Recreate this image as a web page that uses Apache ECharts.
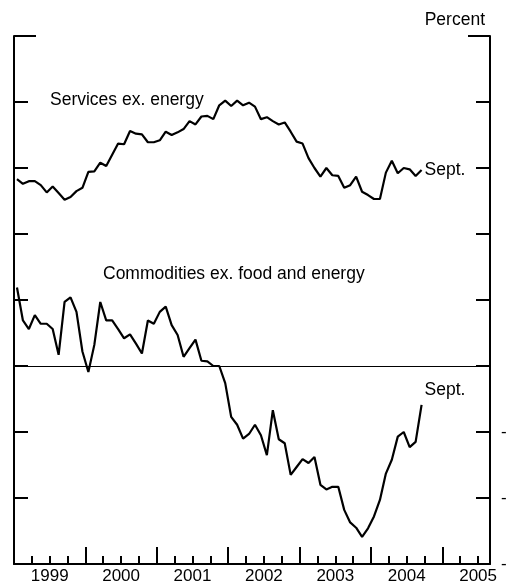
<!DOCTYPE html>
<html>
<head>
<meta charset="utf-8">
<script src="https://cdn.jsdelivr.net/npm/echarts@6/dist/echarts.min.js"></script>
<style>
html,body{margin:0;padding:0;background:#fff;}
#chart{width:507px;height:586px;}
</style>
</head>
<body>
<div id="chart"></div>
<script>
// Monthly data, Jan 1999 .. Sep 2004 (12-month percent change)
const startYear = 1999;
const services = [2.83,2.76,2.80,2.80,2.74,2.63,2.72,2.62,2.52,2.56,2.65,2.70,
  2.94,2.95,3.08,3.03,3.20,3.37,3.36,3.56,3.52,3.51,3.39,3.39,
  3.42,3.55,3.50,3.54,3.59,3.71,3.66,3.78,3.79,3.74,3.95,4.02,
  3.94,4.02,3.95,3.99,3.93,3.74,3.77,3.71,3.66,3.69,3.55,3.40,
  3.37,3.15,3.00,2.87,3.00,2.89,2.88,2.70,2.74,2.87,2.64,2.59,
  2.53,2.53,2.93,3.11,2.92,3.00,2.98,2.88,2.97];
const commodities = [1.19,0.69,0.56,0.77,0.64,0.64,0.56,0.17,0.97,1.04,0.82,0.22,
  -0.09,0.32,0.97,0.69,0.69,0.56,0.42,0.48,0.34,0.19,0.69,0.64,
  0.82,0.90,0.62,0.47,0.14,0.27,0.40,0.08,0.07,0.00,0.00,-0.26,
  -0.77,-0.89,-1.10,-1.03,-0.89,-1.05,-1.35,-0.67,-1.11,-1.17,-1.65,-1.53,
  -1.41,-1.47,-1.38,-1.80,-1.87,-1.83,-1.83,-2.18,-2.37,-2.45,-2.59,-2.46,
  -2.28,-2.03,-1.63,-1.42,-1.07,-1.00,-1.23,-1.15,-0.59];
const seriesNames = ['Services ex. energy', 'Commodities ex. food and energy'];
const endLabelText = 'Sept.';
const unitLabel = 'Percent';
const yMin = -3, yMax = 5, yStep = 1;
const xMin = 1999, xMax = 2005 + 8/12;

const toPairs = arr => arr.map((v, i) => [startYear + (i + 0.5) / 12, v]);

const FONT = '"Liberation Sans", Arial, Helvetica, sans-serif';
const BLACK = '#000';

const chart = echarts.init(document.getElementById('chart'), null, {renderer: 'canvas'});

const hiddenLabel = {show: false};
chart.setOption({
  animation: false,
  backgroundColor: '#fff',
  textStyle: {fontFamily: FONT, color: BLACK},
  grid: {left: 14, right: 17, top: 36, bottom: 22, containLabel: false, outerBoundsMode: 'none'},
  xAxis: [
    { // major year ticks + axis line
      type: 'value', min: xMin, max: xMax, interval: 1, position: 'bottom',
      axisLine: {show: true, onZero: false, lineStyle: {color: BLACK, width: 2}},
      axisTick: {show: true, inside: true, length: 17, lineStyle: {color: BLACK, width: 2}},
      axisLabel: hiddenLabel, splitLine: {show: false}
    },
    { // quarterly minor ticks
      type: 'value', min: xMin, max: xMax, interval: 0.25, position: 'bottom',
      axisLine: {show: false, onZero: false},
      axisTick: {show: true, inside: true, length: 8, lineStyle: {color: BLACK, width: 2}},
      axisLabel: hiddenLabel, splitLine: {show: false}
    },
    { // year labels centred in each year
      type: 'value', min: xMin - 0.5, max: xMax - 0.5, interval: 0.5, position: 'bottom',
      axisLine: {show: false, onZero: false},
      axisTick: {show: false},
      axisLabel: {show: true, margin: 4, fontSize: 17, fontFamily: FONT, color: BLACK,
        showMinLabel: true, showMaxLabel: true,
        formatter: v => (Math.abs(v - Math.round(v)) < 1e-6 ? String(Math.round(v)) : '')},
      splitLine: {show: false}
    }
  ],
  yAxis: [
    {
      type: 'value', min: yMin, max: yMax, interval: yStep, position: 'left',
      axisLine: {show: true, onZero: false, lineStyle: {color: BLACK, width: 2}},
      axisTick: {show: true, inside: true, length: 14, lineStyle: {color: BLACK, width: 2}},
      axisLabel: hiddenLabel, splitLine: {show: false}
    },
    {
      type: 'value', min: yMin, max: yMax, interval: yStep, position: 'right',
      axisLine: {show: true, onZero: false, lineStyle: {color: BLACK, width: 2}},
      axisTick: {show: true, inside: true, length: 14, lineStyle: {color: BLACK, width: 2}},
      axisLabel: {show: true, margin: 11, fontSize: 17, fontFamily: FONT, color: BLACK,
        formatter: v => (v < 0 ? String(v) : '\u2007' + v)},
      splitLine: {show: false}
    },
    {
      type: 'value', min: yMin, max: yMax, interval: yMax - yMin, position: 'left',
      axisLine: {show: false, onZero: false},
      axisTick: {show: true, inside: true, length: 22, lineStyle: {color: BLACK, width: 2}},
      axisLabel: hiddenLabel, splitLine: {show: false}
    },
    {
      type: 'value', min: yMin, max: yMax, interval: yMax - yMin, position: 'right',
      axisLine: {show: false, onZero: false},
      axisTick: {show: true, inside: true, length: 22, lineStyle: {color: BLACK, width: 2}},
      axisLabel: hiddenLabel, splitLine: {show: false}
    }
  ],
  title: {
    text: unitLabel, right: 17, top: 6,
    textStyle: {fontFamily: FONT, fontSize: 17.5, fontWeight: 'normal', color: BLACK}
  },
  graphic: [
    {type: 'text', left: 50, top: 91,
      style: {text: seriesNames[0], font: '17.5px ' + FONT, fill: BLACK}},
    {type: 'text', left: 103, top: 265,
      style: {text: seriesNames[1], font: '17.5px ' + FONT, fill: BLACK}}
  ],
  series: [
    {
      name: seriesNames[0], type: 'line', xAxisIndex: 0, yAxisIndex: 0,
      data: toPairs(services), showSymbol: false, symbol: 'none',
      lineStyle: {color: BLACK, width: 2.2}, z: 5,
      endLabel: {show: true, formatter: () => endLabelText, distance: 3,
        fontSize: 17.5, fontFamily: FONT, color: BLACK}
    },
    {
      name: seriesNames[1], type: 'line', xAxisIndex: 0, yAxisIndex: 0,
      data: toPairs(commodities), showSymbol: false, symbol: 'none',
      lineStyle: {color: BLACK, width: 2.2}, z: 5,
      endLabel: {show: true, formatter: () => endLabelText, distance: 3, offset: [0, -15],
        fontSize: 17.5, fontFamily: FONT, color: BLACK},
      markLine: {
        silent: true, symbol: 'none', label: {show: false},
        lineStyle: {color: BLACK, width: 1, type: 'solid'},
        data: [{yAxis: 0}]
      }
    }
  ]
});
</script>
</body>
</html>
